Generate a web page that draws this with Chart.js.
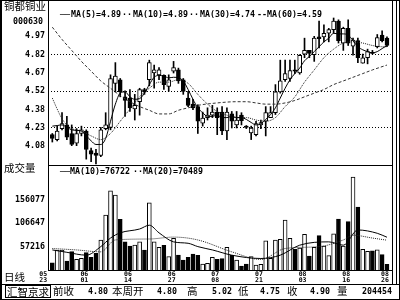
<!DOCTYPE html>
<html>
<head>
<meta charset="utf-8">
<script src="https://cdn.jsdelivr.net/npm/chart.js@4.4.1/dist/chart.umd.min.js"></script>
<style>
  body { margin: 0; background: #fff; }
  #box { position: relative; width: 400px; height: 300px; background: #fff; overflow: hidden; }
  canvas { position: absolute; }
  .ln { position: absolute; background: #000; }
  .m { position: absolute; white-space: pre; font: bold 8.3px/9px "DejaVu Sans Mono", monospace; color: #000; }
  .c { position: absolute; white-space: pre; font: 10.5px/12px "Noto Sans CJK SC", sans-serif; color: #000; }
</style>
</head>
<body>
<div id="box">
  <canvas id="price" width="392" height="165" style="left:0;top:0"></canvas>
  <canvas id="vol" width="392" height="123" style="left:0;top:165px"></canvas>

  <!-- frame -->
  <div class="ln" style="left:0;top:0;width:400px;height:1px"></div>
  <div class="ln" style="left:0;top:299px;width:400px;height:1px"></div>
  <div class="ln" style="left:0;top:0;width:2px;height:300px"></div>
  <div class="ln" style="left:399px;top:0;width:1px;height:300px"></div>
  <div class="ln" style="left:48px;top:0;width:1px;height:271px"></div>
  <div class="ln" style="left:48px;top:165px;width:345px;height:1px"></div>
  <div class="ln" style="left:48px;top:270px;width:345px;height:1px"></div>
  <div class="ln" style="left:392px;top:0;width:1px;height:284px"></div>
  <div class="ln" style="left:396px;top:0;width:1px;height:284px"></div>
  <div class="ln" style="left:0;top:284px;width:400px;height:1px"></div>

  <!-- left labels -->
  <div class="c" style="left:4px;top:0">铜都铜业</div>
  <div class="m" style="left:13px;top:17px">000630</div>
  <div class="c" style="left:4px;top:162px">成交量</div>
  <div class="c" style="left:4px;top:271px">日线</div>

  <!-- price legend -->
  <div class="m" style="left:60px;top:10px">──</div>
  <div class="m" style="left:71px;top:10px">MA(5)=4.89</div>
  <div class="m" style="left:122px;top:10px">··</div>
  <div class="m" style="left:133px;top:10px">MA(10)=4.89</div>
  <div class="m" style="left:189px;top:10px">··</div>
  <div class="m" style="left:200px;top:10px">MA(30)=4.74</div>
  <div class="m" style="left:257px;top:10px">--</div>
  <div class="m" style="left:267px;top:10px">MA(60)=4.59</div>

  <!-- volume legend -->
  <div class="m" style="left:60px;top:167px">──</div>
  <div class="m" style="left:70px;top:167px">MA(10)=76722</div>
  <div class="m" style="left:133px;top:167px">··</div>
  <div class="m" style="left:143px;top:167px">MA(20)=70489</div>

  <!-- status bar -->
  <div class="c" style="left:5px;top:285px;border:1px solid #000;padding:0 1px;line-height:11px">汇智京求</div>
  <div class="c" style="left:53px;top:285px">前收</div>
  <div class="m" style="left:88px;top:287px">4.80</div>
  <div class="c" style="left:112px;top:285px">本周开</div>
  <div class="m" style="left:157px;top:287px">4.80</div>
  <div class="c" style="left:187px;top:285px">高</div>
  <div class="m" style="left:212px;top:287px">5.02</div>
  <div class="c" style="left:238px;top:285px">低</div>
  <div class="m" style="left:260px;top:287px">4.75</div>
  <div class="c" style="left:287px;top:285px">收</div>
  <div class="m" style="left:310px;top:287px">4.90</div>
  <div class="c" style="left:337px;top:285px">量</div>
  <div class="m" style="left:362px;top:287px">204454</div>
</div>
<script>
// daily candles, 2005-05-23 .. 2005-08-26
const opens  = [4.17,4.13,4.22,4.25,4.18,4.10,4.18,4.20,4.04,4.02, 4.00,4.22,4.23,4.59,4.62,4.48,4.47,4.38,4.44,4.54,
                4.62,4.675,4.66,4.655,4.565,4.69,4.70,4.62,4.47,4.42, 4.40,4.265,4.31,4.33,4.355,4.355,4.20,4.34,4.25,4.33,
                4.24,4.185,4.17,4.25,4.28,4.31,4.35,4.52,4.62,4.63, 4.70,4.675,4.83,4.86,4.825,4.97,4.97,5.00,5.03,5.10,
                4.92,5.04,4.895,4.94,4.755,4.80,4.845,4.89,4.985,4.96];
const closes = [4.14,4.20,4.26,4.15,4.09,4.18,4.21,4.05,4.01,4.00, 4.21,4.25,4.63,4.65,4.52,4.45,4.39,4.41,4.54,4.52,
                4.76,4.70,4.70,4.58,4.62,4.72,4.61,4.525,4.41,4.39, 4.28,4.305,4.33,4.355,4.31,4.20,4.355,4.28,4.29,4.285,
                4.23,4.225,4.26,4.27,4.35,4.35,4.52,4.61,4.67,4.695, 4.69,4.82,4.86,4.835,4.96,4.955,5.00,5.03,5.10,4.94,
                5.04,4.92,4.945,4.80,4.80,4.85,4.835,4.965,4.94,4.90];
const highs  = [4.18,4.24,4.35,4.32,4.25,4.22,4.24,4.21,4.06,4.05, 4.23,4.35,4.66,4.76,4.63,4.53,4.54,4.50,4.55,4.55,
                4.78,4.74,4.72,4.66,4.66,4.77,4.715,4.63,4.525,4.46, 4.415,4.355,4.39,4.41,4.39,4.40,4.39,4.36,4.36,4.35,
                4.245,4.24,4.28,4.29,4.40,4.40,4.58,4.78,4.78,4.78, 4.78,4.825,4.96,4.86,4.975,5.10,5.07,5.04,5.125,5.11,
                5.05,5.11,4.96,4.96,4.83,4.87,4.86,4.99,5.02,4.97];
const lows   = [4.11,4.12,4.21,4.13,4.08,4.08,4.16,3.97,3.95,3.93, 3.99,4.21,4.21,4.52,4.48,4.32,4.36,4.29,4.33,4.50,
                4.57,4.55,4.62,4.54,4.525,4.675,4.59,4.50,4.40,4.375, 4.18,4.24,4.29,4.31,4.17,4.17,4.13,4.225,4.225,4.25,
                4.22,4.13,4.16,4.22,4.16,4.31,4.335,4.51,4.605,4.605, 4.67,4.665,4.80,4.80,4.77,4.88,4.93,4.93,5.00,4.92,
                4.86,4.90,4.82,4.76,4.755,4.75,4.83,4.88,4.93,4.89];
const volumes = [23100,49800,49800,26700,46300,30300,32400,44200,34500,42900,
                 70900,123400,174500,165500,114400,67300,58300,60400,67300,49800,
                 149300,67300,55500,59700,35800,74400,39300,28800,34500,41400,
                 38700,20400,21900,34500,30300,31600,55500,38700,28800,16200,
                 20400,35800,18300,19800,69400,32400,70900,72300,113000,74400,
                 51300,54000,82900,37200,55500,80000,58300,38000,84000,115000,
                 58000,109400,203000,140000,51500,47000,48000,50000,40000,19454];

// moving averages
const ma5 = [4.24,4.245,4.25,4.23,4.21,4.205,4.20,4.16,4.12,4.09, 4.09,4.14,4.28,4.42,4.51,4.52,4.48,4.46,4.465,4.51,
             4.58,4.64,4.655,4.65,4.635,4.64,4.635,4.61,4.54,4.46, 4.39,4.35,4.32,4.32,4.33,4.31,4.31,4.32,4.31,4.31,
             4.295,4.27,4.25,4.26,4.295,4.335,4.39,4.47,4.55,4.62, 4.67,4.715,4.775,4.81,4.85,4.89,4.93,4.96,5.00,4.995,
             4.995,4.985,4.94,4.89,4.865,4.85,4.84,4.85,4.875,4.90];
const ma10Idx = [0,1,2,3,4,6,8,10,12,14,16,18,20,22,24,26,28,30,32,34,36,38,40,42,44,46,48,50,52,54,56,58,60,62,64,66,68,69];
const ma10 = [4.47,4.38,4.30,4.25,4.22,4.20,4.16,4.13,4.18,4.28,4.38,4.48,4.55,4.60,4.60,4.62,4.59,4.50,4.42,4.36,
              4.33,4.31,4.31,4.29,4.28,4.31,4.40,4.48,4.60,4.70,4.80,4.87,4.92,4.93,4.92,4.90,4.89,4.89];
const ma30Idx = [0,2,4,6,8,10,12,14,16,18,20,22,24,26,28,30,34,38,40,42,44,46,48,50,52,54,56,58,60,62,64,66,69];
const ma30 = [5.05,4.95,4.86,4.77,4.69,4.61,4.55,4.49,4.44,4.40,4.37,4.34,4.34,4.37,4.39,4.41,4.43,4.44,4.44,4.43,
              4.42,4.42,4.43,4.45,4.48,4.51,4.54,4.58,4.61,4.64,4.67,4.70,4.74];
const volMa10Idx = [0,3,7,10,12,14,18,20,22,25,28,30,33,37,43,47,51,57,60,63,67,69];
const volMa10 = [50000,45000,39000,57000,75000,86000,94000,102000,86000,67000,64000,57000,50000,39000,32000,39000,
                 60000,67000,60000,92000,85000,76722];
const volMa20Idx = [0,5,10,13,20,25,30,37,43,48,55,60,62,66,69];
const volMa20 = [53000,50000,46000,71000,73000,77000,71000,46000,30000,53000,57000,71000,81000,75000,70489];

// axes
const priceTicks = [4.975, 4.825, 4.675, 4.525, 4.375, 4.225, 4.075];
const priceTickLabels = ['4.97', '4.82', '4.67', '4.52', '4.38', '4.23', '4.08'];
const volTicks = [57216, 106647, 156077];
const dateIdx = [0, 7, 16, 25, 34, 43, 52, 61, 69];
const dateMonth = ['05', '06', '06', '06', '07', '07', '08', '08', '08'];
const dateDay = ['23', '01', '14', '27', '08', '21', '03', '16', '26'];

const X_MIN = -0.89, X_MAX = 69.83;
const up = closes.map((c, i) => c >= opens[i]);
const mono = { family: 'DejaVu Sans Mono', size: 8.3, weight: 'bold' };

function pts(idx, vals) {
    return idx.map((x, k) => ({ x: x, y: vals[k] }));
}

function lineSet(data, color, dash) {
    return {
        type: 'line', data: data, borderColor: color, borderWidth: 1, borderDash: dash,
        pointRadius: 0, cubicInterpolationMode: 'monotone', order: 0
    };
}

// stop the axes from eating into the plot area for their labels
function noPad(s) {
    s.paddingTop = 0; s.paddingBottom = 0; s.paddingLeft = 0; s.paddingRight = 0;
}

// price panel
new Chart(document.getElementById('price'), {
    type: 'bar',
    data: {
        datasets: [
            lineSet(ma5.map((y, i) => ({ x: i, y: y })), '#000', []),
            lineSet(pts(ma10Idx, ma10), '#222', [1, 1]),
            lineSet(pts(ma30Idx, ma30), '#333', [3, 2]),
            {
                data: opens.map((o, i) => ({ x: i, y: [o, closes[i]] })),
                backgroundColor: up.map(u => u ? '#fff' : '#000'),
                borderColor: '#000', borderWidth: 1, borderSkipped: false,
                barThickness: 4, grouped: false, order: 1
            },
            {
                data: lows.map((l, i) => ({ x: i, y: [l, highs[i]] })),
                backgroundColor: '#000', barThickness: 1, grouped: false, order: 2
            }
        ]
    },
    options: {
        responsive: false, animation: false,
        layout: { padding: { top: 2, right: 1 } },
        plugins: { legend: { display: false }, tooltip: { enabled: false } },
        scales: {
            x: { type: 'linear', min: X_MIN, max: X_MAX, offset: false, display: false },
            y: {
                min: 3.922, max: 5.256,
                afterFit: s => { s.width = 48; noPad(s); },
                afterBuildTicks: s => { s.ticks = priceTicks.map(v => ({ value: v })); },
                ticks: { callback: (v, i) => priceTickLabels[i], font: mono, color: '#000', padding: 3 },
                grid: { drawTicks: false, color: c => [1, 3, 5].includes(c.index) ? '#000' : 'rgba(0,0,0,0)' },
                border: { display: false, dash: [1, 2] }
            }
        }
    }
});

// volume panel
new Chart(document.getElementById('vol'), {
    type: 'bar',
    data: {
        datasets: [
            lineSet(pts(volMa10Idx, volMa10), '#000', []),
            lineSet(pts(volMa20Idx, volMa20), '#222', [1, 1]),
            {
                data: volumes.map((v, i) => ({ x: i, y: v })),
                backgroundColor: up.map(u => u ? '#fff' : '#000'),
                borderColor: '#000', borderWidth: 1, borderSkipped: false,
                barThickness: 4, grouped: false, order: 1
            }
        ]
    },
    options: {
        responsive: false, animation: false,
        layout: { padding: { top: 1, right: 1 } },
        plugins: { legend: { display: false }, tooltip: { enabled: false } },
        scales: {
            x: {
                type: 'linear', min: X_MIN, max: X_MAX, offset: false,
                afterBuildTicks: s => { s.ticks = dateIdx.map((d, k) => ({ value: k === 0 ? X_MIN - 1 : d - 0.4 })); },
                afterFit: s => { s.height = 18; noPad(s); },
                ticks: {
                    autoSkip: false, maxRotation: 0, padding: 1, color: '#000',
                    font: { family: 'DejaVu Sans Mono', size: 6.5, weight: 'bold', lineHeight: 1.0 },
                    callback: (v, k) => [dateMonth[k], dateDay[k]]
                },
                grid: { display: false, drawTicks: false },
                border: { display: false }
            },
            y: {
                min: 7786, max: 226540,
                afterFit: s => { s.width = 48; noPad(s); },
                afterBuildTicks: s => { s.ticks = volTicks.map(v => ({ value: v })); },
                ticks: { callback: (v, i) => String(volTicks[i]), font: mono, color: '#000', padding: 3 },
                grid: { display: false, drawTicks: false },
                border: { display: false }
            }
        }
    }
});
</script>
</body>
</html>
